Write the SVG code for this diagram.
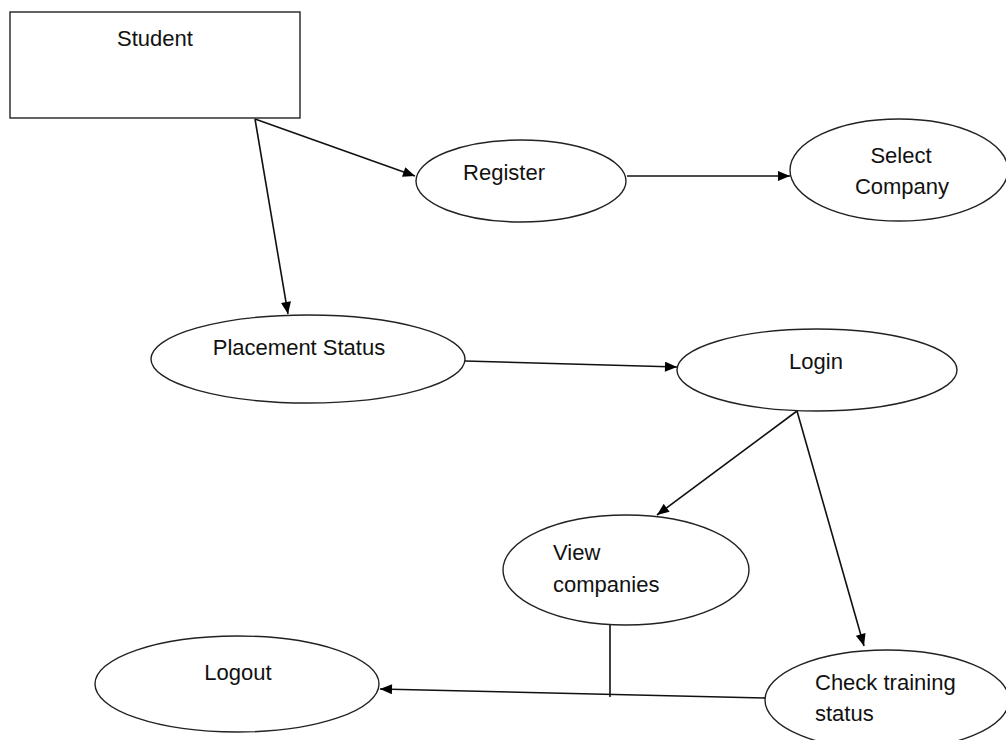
<svg xmlns="http://www.w3.org/2000/svg" width="1006" height="740" viewBox="0 0 1006 740">
<style>
.shape{fill:#fff;stroke:#222;stroke-width:1.4}
.lbl{font-family:"Liberation Sans",Arial,sans-serif;font-size:22px;fill:#111}
.mid{text-anchor:middle}
.edge{stroke:#111;stroke-width:1.6;fill:none}
</style>
<defs>
<marker id="arr" viewBox="0 0 12 10" refX="12" refY="5" markerWidth="13" markerHeight="10" markerUnits="userSpaceOnUse" orient="auto">
<path d="M0,0 L12,5 L0,10 Z" fill="#000"/>
</marker>
</defs>
<rect width="1006" height="740" fill="#fff"/>
<g id="connectors">
<line class="edge" x1="255" y1="119" x2="415" y2="176" marker-end="url(#arr)"/>
<line class="edge" x1="255" y1="119" x2="288" y2="314" marker-end="url(#arr)"/>
<line class="edge" x1="627" y1="176" x2="790" y2="176" marker-end="url(#arr)"/>
<line class="edge" x1="465" y1="361" x2="677" y2="367" marker-end="url(#arr)"/>
<line class="edge" x1="797" y1="411" x2="657" y2="515" marker-end="url(#arr)"/>
<line class="edge" x1="797" y1="411" x2="864" y2="646" marker-end="url(#arr)"/>
<line class="edge" x1="766" y1="698" x2="380" y2="689" marker-end="url(#arr)"/>
<line class="edge" x1="610" y1="625" x2="610" y2="697"/>
</g>
<g id="student">
<rect class="shape" x="10" y="12" width="290" height="106"/>
<text class="lbl mid" x="155" y="46">Student</text>
</g>
<g id="register">
<ellipse class="shape" cx="521" cy="181" rx="105" ry="41"/>
<text class="lbl mid" x="504" y="180">Register</text>
</g>
<g id="select-company">
<ellipse class="shape" cx="899" cy="170" rx="109" ry="51"/>
<text class="lbl mid" x="901" y="163">Select</text>
<text class="lbl mid" x="902" y="194">Company</text>
</g>
<g id="placement-status">
<ellipse class="shape" cx="308" cy="359" rx="157" ry="44"/>
<text class="lbl mid" x="299" y="355">Placement Status</text>
</g>
<g id="login">
<ellipse class="shape" cx="817" cy="370" rx="140" ry="41"/>
<text class="lbl mid" x="816" y="369">Login</text>
</g>
<g id="view-companies">
<ellipse class="shape" cx="626" cy="570" rx="123" ry="55"/>
<text class="lbl" x="553" y="560">View</text>
<text class="lbl" x="553" y="592">companies</text>
</g>
<g id="logout">
<ellipse class="shape" cx="237" cy="684" rx="142" ry="48"/>
<text class="lbl mid" x="238" y="680">Logout</text>
</g>
<g id="check-training-status">
<ellipse class="shape" cx="887" cy="700" rx="122" ry="50"/>
<text class="lbl" x="815" y="690">Check training</text>
<text class="lbl" x="815" y="721">status</text>
</g>
</svg>
